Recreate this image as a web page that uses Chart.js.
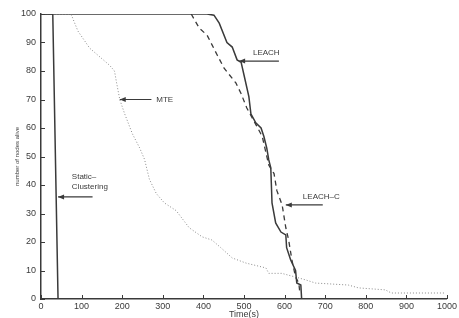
<!DOCTYPE html>
<html>
<head>
<meta charset="utf-8">
<script src="https://cdn.jsdelivr.net/npm/chart.js@4/dist/chart.umd.min.js"></script>
<style>
html,body{margin:0;padding:0;background:#fff;}
#wrap{width:459px;height:318px;}
</style>
</head>
<body>
<div id="wrap"><canvas id="c" width="459" height="318"></canvas></div>
<script>
// ---- data ----
const xTicks = [0,100,200,300,400,500,600,700,800,900,1000];
const yTicks = [0,10,20,30,40,50,60,70,80,90,100];

const staticTime  = [0, 29, 42];
const staticAlive = [100, 100, 0];

const mteTime  = [0,70,75,91,120,169,181,186,194,206,225,243,255,267,284,304,333,365,397,421,443,471,505,554,561,593,627,652,676,757,782,848,863,995];
const mteAlive = [100,100,99.6,94,88,82,80,76,70,65,58,53,49,42,37,33.7,31,25,21.8,20.7,18,14.4,12.6,10.9,9,9,7.7,6.7,5.6,4.9,3.9,3.2,2.1,2.1];

const leachTime  = [0,409,426,439,458,471,483,493,500,512,517,529,542,549,556,561,566,569,578,591,603,605,615,627,630,640,642];
const leachAlive = [100,100,99.6,96.8,90,88.4,83.9,83,78.6,71,65,61.8,60,57,53,48.8,46,33.7,26.7,23.5,22.5,18,13.7,10,5.6,4.9,0];

const leachcTime  = [370,390,409,434,451,480,493,507,530,545,561,574,581,594,603,610,618,627,635,637];
const leachcAlive = [100,95,92.6,85.6,81,75.8,72,67,61,57,47,44,38,33,25,20.7,13.7,7.7,5.6,3];

// annotation labels: [text lines, x, y] and arrows [fromX, toX, y]
const labels = [
  {lines:["LEACH"], x:522, y:86.3},
  {lines:["MTE"], x:284, y:70},
  {lines:["Static\u2013","Clustering"], x:76, y:42.8},
  {lines:["LEACH\u2013C"], x:645, y:35.8}
];
const arrows = [
  {from:586, to:488, y:83.5},
  {from:272, to:194, y:70},
  {from:127, to:42, y:35.8},
  {from:694, to:603, y:33}
];

const zip = (xs, ys) => xs.map((x,i)=>({x:x, y:ys[i]}));

const ink = '#3a3a3a';
const fontFam = '"Liberation Sans", Arial, sans-serif';

const annotPlugin = {
  id:'annot',
  afterDatasetsDraw(chart){
    const ctx = chart.ctx, xs = chart.scales.x, ys = chart.scales.y;
    ctx.save();
    // inner ticks
    ctx.strokeStyle = ink; ctx.lineWidth = 1;
    const a = chart.chartArea;
    xTicks.forEach(v=>{
      const px = Math.round(xs.getPixelForValue(v))+0.5;
      ctx.beginPath(); ctx.moveTo(px, a.bottom); ctx.lineTo(px, a.bottom-4); ctx.stroke();
    });
    yTicks.forEach(v=>{
      const py = Math.round(ys.getPixelForValue(v))+0.5;
      ctx.beginPath(); ctx.moveTo(a.left, py); ctx.lineTo(a.left+4, py); ctx.stroke();
    });
    // labels
    ctx.fillStyle = ink;
    ctx.font = '8px ' + fontFam;
    ctx.textBaseline = 'middle';
    ctx.textAlign = 'left';
    labels.forEach(l=>{
      const px = xs.getPixelForValue(l.x);
      let py = ys.getPixelForValue(l.y);
      l.lines.forEach((t,i)=>{ ctx.fillText(t, px, py + i*10); });
    });
    // arrows
    ctx.lineWidth = 1.2;
    arrows.forEach(ar=>{
      const x1 = xs.getPixelForValue(ar.from), x2 = xs.getPixelForValue(ar.to);
      const py = ys.getPixelForValue(ar.y);
      ctx.beginPath(); ctx.moveTo(x1, py); ctx.lineTo(x2, py); ctx.stroke();
      ctx.beginPath(); ctx.moveTo(x2, py); ctx.lineTo(x2+6, py-2.5); ctx.lineTo(x2+6, py+2.5); ctx.closePath(); ctx.fill();
    });
    ctx.restore();
  }
};

new Chart(document.getElementById('c'), {
  type:'line',
  data:{
    datasets:[
      {label:'Static-Clustering', data:zip(staticTime, staticAlive), borderColor:ink, borderWidth:1.5, pointRadius:0, tension:0},
      {label:'MTE', data:zip(mteTime, mteAlive), borderColor:'#8a8a8a', borderWidth:1, borderDash:[1,2], pointRadius:0, tension:0},
      {label:'LEACH', data:zip(leachTime, leachAlive), borderColor:ink, borderWidth:1.5, pointRadius:0, tension:0},
      {label:'LEACH-C', data:zip(leachcTime, leachcAlive), borderColor:ink, borderWidth:1.3, borderDash:[5,4], pointRadius:0, tension:0}
    ]
  },
  options:{
    responsive:false,
    animation:false,
    devicePixelRatio:1,
    layout:{padding:{top:14, right:10, left:0, bottom:0}},
    plugins:{legend:{display:false}, tooltip:{enabled:false}},
    scales:{
      x:{
        type:'linear', min:0, max:1000,
        afterBuildTicks: s => { s.ticks = xTicks.map(v=>({value:v})); },
        afterFit: s => { s.height = 19; },
        border:{display:true, color:ink, width:1.5},
        grid:{display:false, drawTicks:false},
        ticks:{color:ink, font:{family:fontFam, size:9}, padding:2, maxRotation:0, autoSkip:false, callback: v => String(v)},
        title:{display:true, text:'Time(s)', color:ink, font:{family:fontFam, size:9}, padding:{top:0, bottom:-2}}
      },
      y:{
        type:'linear', min:0, max:100,
        afterBuildTicks: s => { s.ticks = yTicks.map(v=>({value:v})); },
        afterFit: s => { s.width = 41; },
        border:{display:true, color:ink, width:1.5},
        grid:{display:false, drawTicks:false},
        ticks:{color:ink, font:{family:fontFam, size:9}, padding:5, autoSkip:false, callback: v => String(v)},
        title:{display:true, text:'number of nodes alive', color:ink, font:{family:fontFam, size:6}, padding:{top:14}}
      }
    }
  },
  plugins:[annotPlugin]
});
</script>
</body>
</html>
